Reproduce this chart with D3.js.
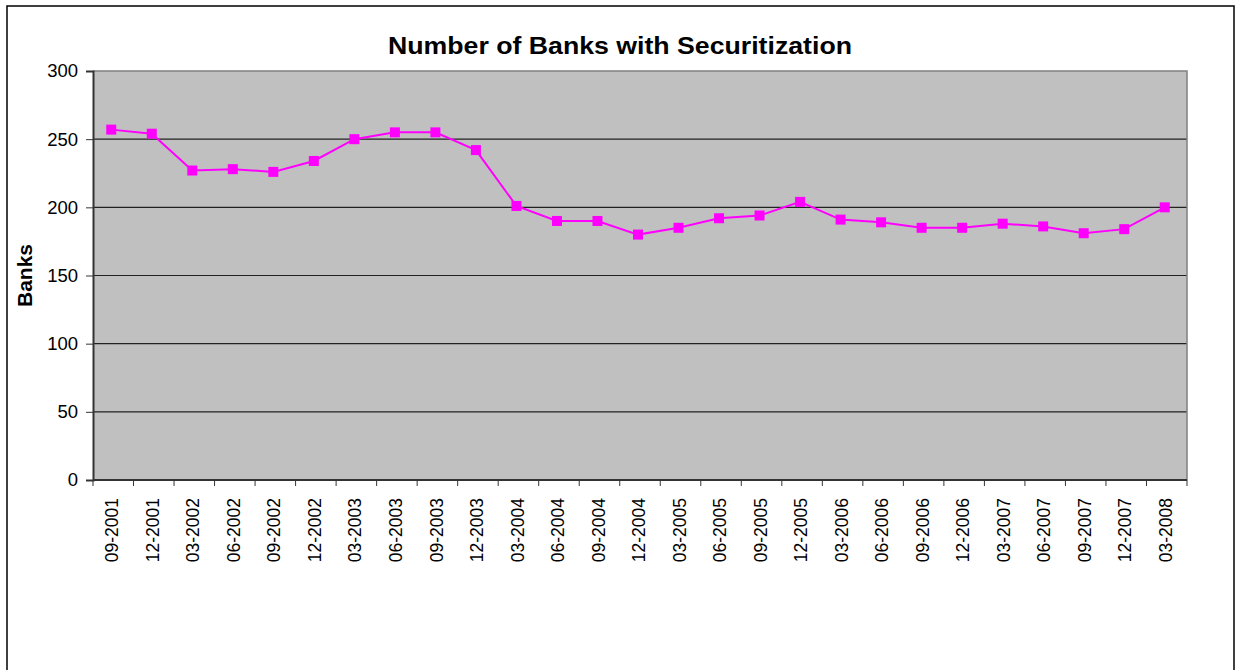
<!DOCTYPE html>
<html>
<head>
<meta charset="utf-8">
<script src="https://cdn.jsdelivr.net/npm/d3@7"></script>
<style>
  body { margin: 0; background: #fff; }
  text { font-family: Arial, "Liberation Sans", sans-serif; }
</style>
</head>
<body>
<div id="main"></div>
<script>
/* Size */
const width = 1239, height = 670;
const margin = {left: 93, right: 52, top: 71, bottom: 190};

/* Data */
const quarters = ["09-2001","12-2001","03-2002","06-2002","09-2002","12-2002","03-2003","06-2003","09-2003","12-2003",
  "03-2004","06-2004","09-2004","12-2004","03-2005","06-2005","09-2005","12-2005","03-2006","06-2006",
  "09-2006","12-2006","03-2007","06-2007","09-2007","12-2007","03-2008"];
const banks = [257,254,227,228,226,234,250,255,255,242,
  201,190,190,180,185,192,194,204,191,189,
  185,185,188,186,181,184,200];
const yTicks = [0,50,100,150,200,250,300];

const svg = d3.select("#main").append("svg").attr("width", width).attr("height", height);

// outer chart frame
svg.append("rect")
  .attr("x", 7).attr("y", 6).attr("width", 1227).attr("height", 680)
  .attr("fill", "#fff").attr("stroke", "#000").attr("stroke-width", 1.5);

const x = d3.scaleBand().domain(quarters).range([margin.left, width - margin.right]);
const y = d3.scaleLinear().domain([0, 300]).range([height - margin.bottom, margin.top]);

// plot area
svg.append("rect")
  .attr("x", x.range()[0]).attr("y", y(300))
  .attr("width", x.range()[1] - x.range()[0]).attr("height", y(0) - y(300))
  .attr("fill", "#c0c0c0");

// gridlines
svg.append("g").selectAll("line")
  .data(yTicks.filter(d => d > 0 && d < 300))
  .join("line")
  .attr("x1", x.range()[0]).attr("x2", x.range()[1])
  .attr("y1", d => y(d)).attr("y2", d => y(d))
  .attr("stroke", "#222").attr("stroke-width", 1.2);

// top & right border of plot
svg.append("path")
  .attr("d", `M${x.range()[0]},${y(300)}H${x.range()[1]}V${y(0)}`)
  .attr("fill", "none").attr("stroke", "#808080").attr("stroke-width", 1.5);

// y axis
const yAxis = svg.append("g")
  .attr("transform", `translate(${x.range()[0]},0)`)
  .call(d3.axisLeft(y).tickValues(yTicks).tickSize(7).tickPadding(8));
yAxis.select(".domain").attr("stroke", "#333").attr("stroke-width", 2);
yAxis.selectAll(".tick line").attr("stroke", "#333");
yAxis.selectAll("text").style("font-size", "18.5px").attr("fill", "#000");

// x axis (ticks between categories)
const bounds = quarters.map(q => x(q)).concat([x.range()[1]]);
const xg = svg.append("g");
xg.append("line")
  .attr("x1", x.range()[0]).attr("x2", x.range()[1])
  .attr("y1", y(0)).attr("y2", y(0))
  .attr("stroke", "#333").attr("stroke-width", 2);
xg.selectAll("line.tk").data(bounds).join("line").attr("class", "tk")
  .attr("x1", d => d).attr("x2", d => d)
  .attr("y1", y(0)).attr("y2", y(0) + 6)
  .attr("stroke", "#333");
xg.selectAll("text").data(quarters).join("text")
  .attr("transform", d => `translate(${x(d) + x.bandwidth() / 2 - 1},${y(0) + 18}) rotate(-90)`)
  .attr("text-anchor", "end").attr("dy", "0.35em")
  .style("font-size", "17.5px")
  .text(d => d);

// line + markers
const line = d3.line()
  .x((d, i) => x(quarters[i]) + x.bandwidth() / 2 - 2)
  .y(d => y(d));
svg.append("path").datum(banks)
  .attr("d", line)
  .attr("fill", "none").attr("stroke", "#ff00ff").attr("stroke-width", 2);
svg.append("g").selectAll("rect").data(banks).join("rect")
  .attr("x", (d, i) => x(quarters[i]) + x.bandwidth() / 2 - 7)
  .attr("y", d => y(d) - 5)
  .attr("width", 10).attr("height", 10)
  .attr("fill", "#ff00ff");

// title
svg.append("text")
  .attr("x", 620).attr("y", 54)
  .attr("text-anchor", "middle")
  .attr("textLength", 464).attr("lengthAdjust", "spacingAndGlyphs")
  .style("font-size", "23.5px").style("font-weight", "bold")
  .text("Number of Banks with Securitization");

// y label
svg.append("text")
  .attr("transform", `translate(32,${(y(0) + y(300)) / 2}) rotate(-90)`)
  .attr("text-anchor", "middle")
  .style("font-size", "21px").style("font-weight", "bold")
  .text("Banks");
</script>
</body>
</html>
